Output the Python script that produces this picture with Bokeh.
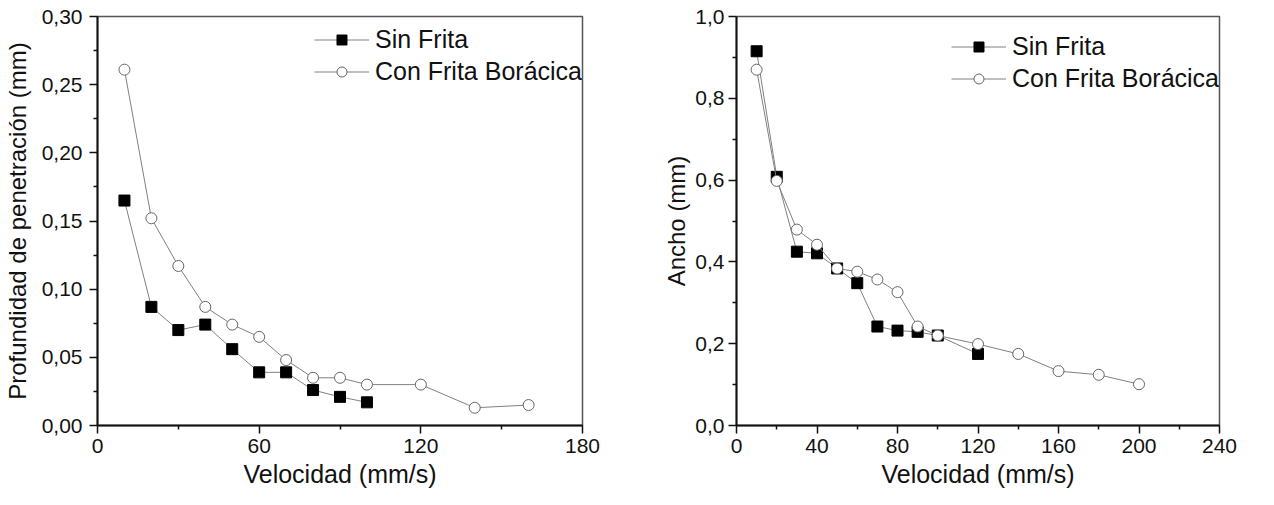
from bokeh.plotting import figure
from bokeh.layouts import row
from bokeh.models import FixedTicker, Legend, LegendItem
from bokeh.embed import file_html
from bokeh.resources import INLINE

# ---- data: left chart (penetration depth) ----
vel_sin_L = [10, 20, 30, 40, 50, 60, 70, 80, 90, 100]
prof_sin = [0.165, 0.087, 0.070, 0.074, 0.056, 0.039, 0.039, 0.026, 0.021, 0.017]
vel_con_L = [10, 20, 30, 40, 50, 60, 70, 80, 90, 100, 120, 140, 160]
prof_con = [0.261, 0.152, 0.117, 0.087, 0.074, 0.065, 0.048, 0.035, 0.035, 0.030, 0.030, 0.013, 0.015]

# ---- data: right chart (width) ----
vel_sin_R = [10, 20, 30, 40, 50, 60, 70, 80, 90, 100, 120]
ancho_sin = [0.915, 0.608, 0.425, 0.421, 0.384, 0.348, 0.242, 0.232, 0.229, 0.220, 0.175]
vel_con_R = [10, 20, 30, 40, 50, 60, 70, 80, 90, 100, 120, 140, 160, 180, 200]
ancho_con = [0.870, 0.598, 0.479, 0.442, 0.384, 0.376, 0.357, 0.326, 0.242, 0.220, 0.199, 0.175, 0.133, 0.124, 0.101]

series_names = ["Sin Frita", "Con Frita Borácica"]

# ---- ticks ----
xticks_L = [0, 60, 120, 180]
xtick_labels_L = ["0", "60", "120", "180"]
xminor_L = [30, 90, 150]
yticks_L = [0.0, 0.05, 0.10, 0.15, 0.20, 0.25, 0.30]
ytick_labels_L = ["0,00", "0,05", "0,10", "0,15", "0,20", "0,25", "0,30"]
yminor_L = [0.025, 0.075, 0.125, 0.175, 0.225, 0.275]

xticks_R = [0, 40, 80, 120, 160, 200, 240]
xtick_labels_R = ["0", "40", "80", "120", "160", "200", "240"]
xminor_R = [20, 60, 100, 140, 180, 220]
yticks_R = [0.0, 0.2, 0.4, 0.6, 0.8, 1.0]
ytick_labels_R = ["0,0", "0,2", "0,4", "0,6", "0,8", "1,0"]
yminor_R = [0.1, 0.3, 0.5, 0.7, 0.9]

FONT = "Liberation Sans"
LINE_COL = "#808080"


def make_fig(width, xr, yr, xlabel, ylabel, mb_left, mb_right, mb_top, mb_bottom,
             xt, xtl, xm, yt, ytl, ym, ylab_standoff, ytick_standoff):
    p = figure(width=width, height=497, x_range=xr, y_range=yr,
               output_backend="svg", toolbar_location=None,
               min_border_left=mb_left, min_border_right=mb_right,
               min_border_top=mb_top, min_border_bottom=mb_bottom)
    p.grid.visible = False
    p.outline_line_color = "#555555"
    p.outline_line_width = 1.5
    p.background_fill_color = "white"
    p.border_fill_color = "white"

    p.xaxis.ticker = FixedTicker(ticks=xt, minor_ticks=xm)
    p.xaxis.major_label_overrides = {v: s for v, s in zip(xt, xtl)}
    p.yaxis.ticker = FixedTicker(ticks=yt, minor_ticks=ym)
    p.yaxis.major_label_overrides = {v: s for v, s in zip(yt, ytl)}

    for ax in (p.xaxis, p.yaxis):
        ax.axis_line_width = 2
        ax.axis_line_color = "#111111"
        ax.major_tick_line_color = "#111111"
        ax.minor_tick_line_color = "#111111"
        ax.major_tick_line_width = 1.5
        ax.minor_tick_line_width = 1.5
        ax.major_tick_in = 0
        ax.major_tick_out = 8
        ax.minor_tick_in = 0
        ax.minor_tick_out = 4
        ax.major_label_text_font = FONT
        ax.major_label_text_font_size = "21px"
        ax.major_label_text_color = "#111111"
        ax.axis_label_text_font = FONT
        ax.axis_label_text_font_style = "normal"
        ax.axis_label_text_color = "#111111"

    p.xaxis.axis_label = xlabel
    p.xaxis.axis_label_text_font_size = "25px"
    p.xaxis.major_label_standoff = 5
    p.xaxis.axis_label_standoff = 4
    p.yaxis.axis_label = ylabel
    p.yaxis.axis_label_text_font_size = "24px"
    p.yaxis.major_label_standoff = ytick_standoff
    p.yaxis.axis_label_standoff = ylab_standoff
    return p


def add_series(p, xs1, ys1, xs2, ys2, pad, top_extra):
    l1 = p.line(xs1, ys1, line_color=LINE_COL, line_width=1)
    s1 = p.scatter(xs1, ys1, marker="square", size=11, fill_color="black",
                   line_color="black")
    l2 = p.line(xs2, ys2, line_color=LINE_COL, line_width=1)
    s2 = p.scatter(xs2, ys2, marker="circle", size=11, fill_color="white",
                   line_color="#666666", line_width=1)
    leg = Legend(items=[LegendItem(label=series_names[0], renderers=[l1, s1]),
                        LegendItem(label=series_names[1], renderers=[l2, s2])],
                 location="top_right")
    leg.border_line_color = None
    leg.background_fill_alpha = 0
    leg.label_text_font = FONT
    leg.label_text_font_size = "25px"
    leg.label_text_color = "#111111"
    leg.glyph_width = 55
    leg.glyph_height = 25
    leg.label_height = 29
    leg.spacing = 3
    leg.padding = pad
    leg.margin = 0
    leg.label_standoff = 6
    # invisible spacer title pushes the entries down from the frame top
    leg.title = " "
    leg.title_text_font_size = top_extra
    leg.title_standoff = 0
    p.add_layout(leg, "center")
    return leg


pL = make_fig(640, (0, 180), (0, 0.30), "Velocidad (mm/s)",
              "Profundidad de penetración (mm)", 92, 58, 14, 72,
              xticks_L, xtick_labels_L, xminor_L,
              yticks_L, ytick_labels_L, yminor_L, 8, 7)
add_series(pL, vel_sin_L, prof_sin, vel_con_L, prof_con, 8, "8px")

pR = make_fig(618, (0, 240), (0, 1.0), "Velocidad (mm/s)", "Ancho (mm)",
              96, 39, 16, 72,
              xticks_R, xtick_labels_R, xminor_R,
              yticks_R, ytick_labels_R, yminor_R, 2, 4)
add_series(pR, vel_sin_R, ancho_sin, vel_con_R, ancho_con, 5, "14px")

layout = row(pL, pR)
open("out.html", "w").write(file_html(layout, INLINE))
